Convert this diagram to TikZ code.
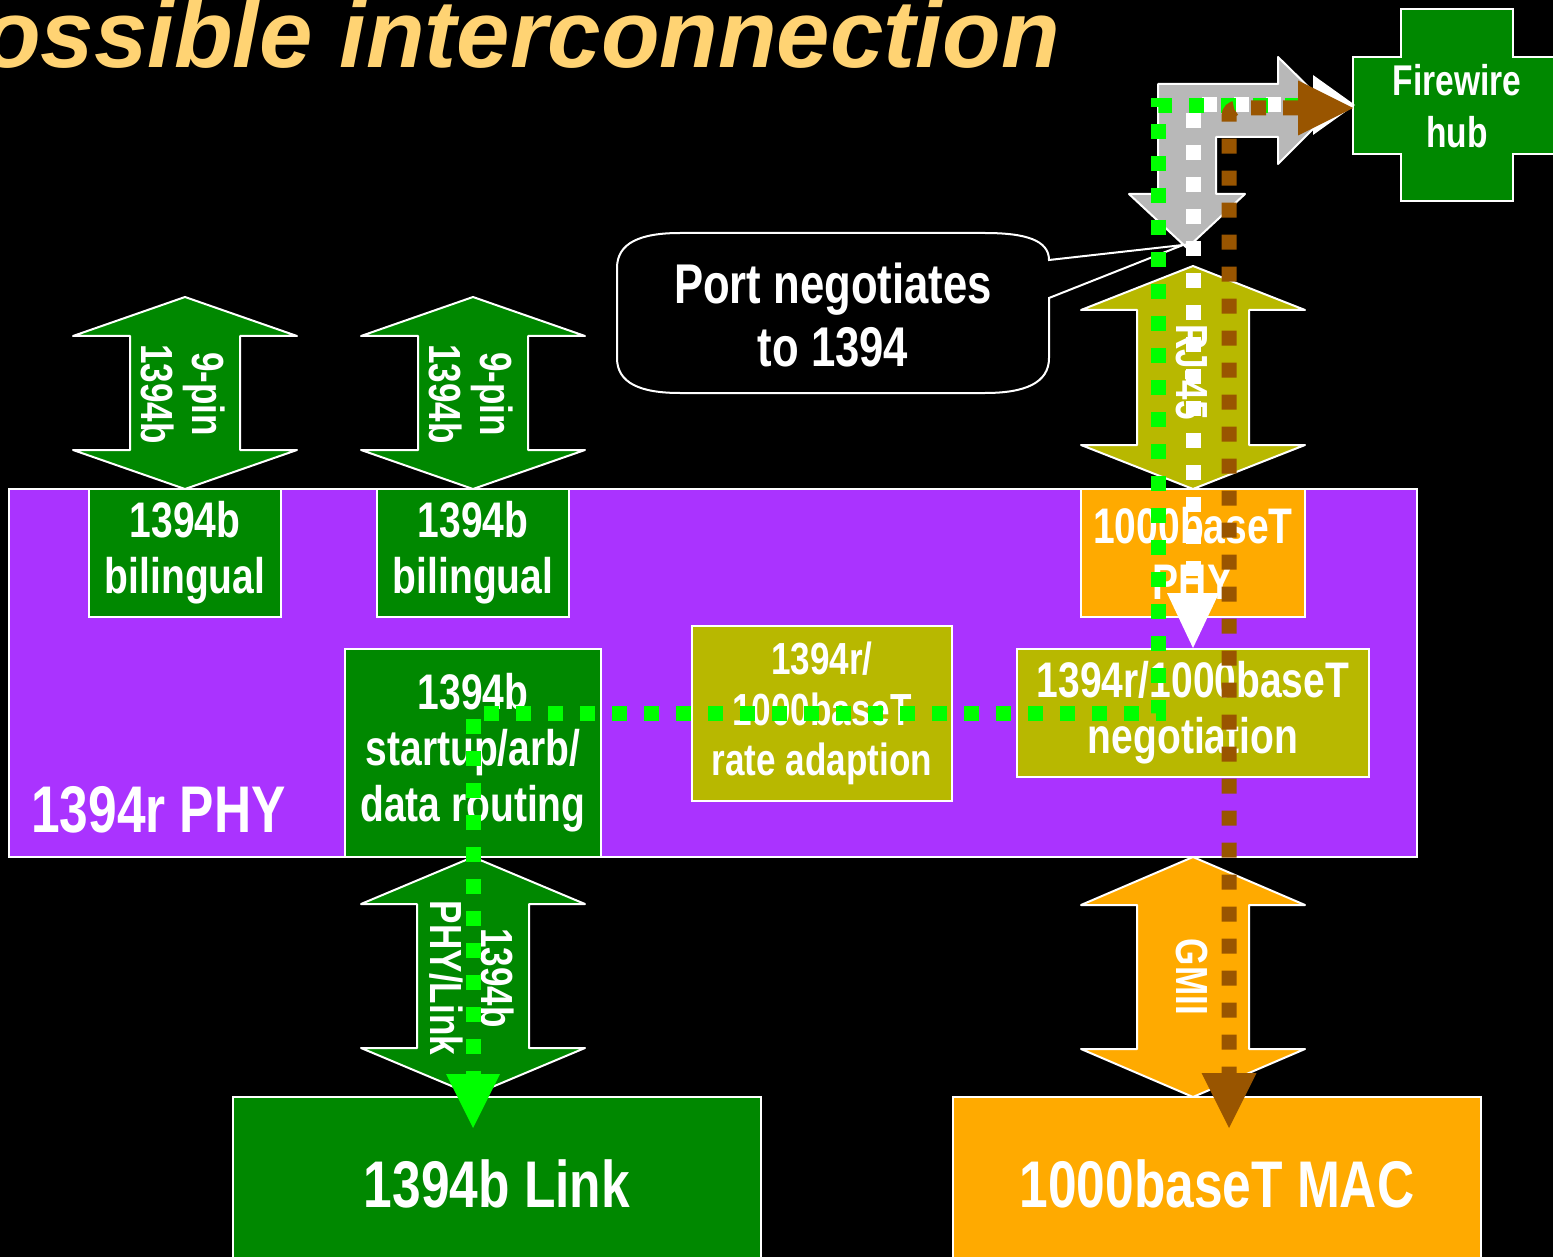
\documentclass[tikz,border=0pt]{standalone}
\usepackage{fontspec}
\usetikzlibrary{arrows.meta}
\newfontfamily\narrowsans{Liberation Sans}[FakeStretch=0.78]
\newfontfamily\titlesans{Liberation Sans}

\definecolor{phypurple}{RGB}{170,51,255}
\definecolor{fwgreen}{RGB}{0,136,0}
\definecolor{mustard}{RGB}{184,184,0}
\definecolor{gbitorange}{RGB}{255,170,0}
\definecolor{pathgrey}{RGB}{184,184,184}
\definecolor{brightgreen}{RGB}{0,255,0}
\definecolor{rust}{RGB}{153,85,0}
\definecolor{titlegold}{RGB}{255,211,115}

% double-headed block arrow: colour, centre x, top tip, bottom tip,
% head length, head half width, shaft half width
\newcommand\blockarrow[7]{%
  \filldraw[fill=#1, draw=white, line width=2, line join=round]
    ({#2},{#3}) -- ({#2+#6},{#3+#5}) -- ({#2+#7},{#3+#5})
    -- ({#2+#7},{#4-#5}) -- ({#2+#6},{#4-#5}) -- ({#2},{#4})
    -- ({#2-#6},{#4-#5}) -- ({#2-#7},{#4-#5}) -- ({#2-#7},{#3+#5})
    -- ({#2-#6},{#3+#5}) -- cycle;}

\tikzset{
  blk/.style={draw=white, line width=2, inner sep=0, align=center, text=white},
  boxfont/.style={font=\narrowsans\bfseries\fontsize{50}{56}\selectfont},
  smallfont/.style={font=\narrowsans\bfseries\fontsize{45}{50.5}\selectfont},
  arrowfont/.style={font=\narrowsans\bfseries\fontsize{45}{51}\selectfont},
  bigfont/.style={font=\narrowsans\bfseries\fontsize{66}{70}\selectfont},
  arrowlabel/.style={arrowfont, text=white, align=center, inner sep=0, rotate=-90},
  dotline/.style={line width=15, dash pattern=on 15 off 17, line cap=butt},
}

\begin{document}
\begin{tikzpicture}[x=1pt, y=-1pt]
\path[use as bounding box] (0,0) rectangle (1553,1257);
\clip (0,0) rectangle (1553,1257);
\fill[black] (0,0) rectangle (1553,1257);

% heading
\node[anchor=base west, inner sep=0, text=titlegold,
      font=\titlesans\bfseries\itshape\fontsize{96}{96}\selectfont]
      (title) at (-18,68) {ossible interconnection};

% the 1394r PHY and its blocks
\node[blk, fill=phypurple, minimum width=1408, minimum height=368] (phy) at (713,673) {};
\node[anchor=base west, inner sep=0, text=white, bigfont] (phylabel) at (31,832) {1394r PHY};

\node[blk, boxfont, fill=fwgreen, minimum width=192, minimum height=128] (bilA) at (185,553) {1394b\\bilingual};
\node[blk, boxfont, fill=fwgreen, minimum width=192, minimum height=128] (bilB) at (473,553) {1394b\\bilingual};
\node[blk, boxfont, fill=fwgreen, minimum width=256, minimum height=208] (startup) at (473,753) {1394b\\startup/arb/\\data routing};
\node[blk, smallfont, fill=mustard, minimum width=260, minimum height=175] (rate) at (822,713.5) {1394r/\\1000baseT\\rate adaption};
\node[blk, boxfont, fill=mustard, minimum width=352, minimum height=128] (nego) at (1193,713) {1394r/1000baseT\\negotiation};
\node[blk, boxfont, fill=gbitorange, minimum width=224, minimum height=128] (gphy) at (1193,553) {1000baseT\\PHY};

% link layer blocks
\node[blk, bigfont, fill=fwgreen, minimum width=528, minimum height=173] (link) at (497,1183.5) {1394b Link};
\node[blk, bigfont, fill=gbitorange, minimum width=528, minimum height=173] (mac) at (1217,1183.5) {1000baseT MAC};

% cable and interface block arrows
\blockarrow{fwgreen}{185}{297}{489}{39}{112}{55}
\node[arrowlabel] (pinA) at (183,394) {9-pin\\1394b};
\blockarrow{fwgreen}{473}{297}{489}{39}{112}{55}
\node[arrowlabel] (pinB) at (471,394) {9-pin\\1394b};
\blockarrow{mustard}{1193}{266}{489}{44}{112}{56}
\node[arrowlabel] (rj) at (1192,372) {RJ-45};
\blockarrow{fwgreen}{473}{857}{1095}{47}{112}{56}
\node[arrowlabel] (phylink) at (472,978) {1394b\\PHY/Link};
\blockarrow{gbitorange}{1193}{857}{1097}{48}{112}{56}
\node[arrowlabel] (gmii) at (1192,977) {GMII};

% Firewire hub
\filldraw[fill=fwgreen, draw=white, line width=2]
  (1401,9) -- (1513,9) -- (1513,57) -- (1561,57) -- (1561,154) -- (1513,154)
  -- (1513,201) -- (1401,201) -- (1401,154) -- (1353,154) -- (1353,57) -- (1401,57) -- cycle;
\node[text=white, align=center, inner sep=0,
      font=\narrowsans\bfseries\fontsize{43}{52}\selectfont] (hub) at (1457,106) {Firewire\\hub};

% bent grey arrow from the hub down to the port
\filldraw[fill=pathgrey, draw=white, line width=2, line join=round]
  (1158,84) -- (1278,84) -- (1278,57) -- (1332,110) -- (1278,164) -- (1278,137)
  -- (1216,137) -- (1216,194) -- (1245,194) -- (1187,248) -- (1129,194)
  -- (1158,194) -- cycle;

% callout
\filldraw[fill=black, draw=white, line width=2]
  (1049,298) -- (1183,245) -- (1049,260)
  .. controls (1049,240) and (1025,233) .. (985,233)
  -- (680,233)
  .. controls (640,233) and (617,243) .. (617,268)
  -- (617,358)
  .. controls (617,383) and (640,393) .. (680,393)
  -- (985,393)
  .. controls (1025,393) and (1049,383) .. (1049,358)
  -- cycle;
\node[text=white, align=center, inner sep=0,
      font=\narrowsans\bfseries\fontsize{56}{63}\selectfont] (note) at (833,315) {Port negotiates\\to 1394};

% data paths
\coordinate (hubW) at (1355,105);
\coordinate (hubB) at (1353,108);
\coordinate (negoIn) at (1193,648);
\draw[dotline, white, {Triangle[length=42pt, width=60pt, line width=0pt]}-{Triangle[length=55pt, width=52pt, line width=0pt]}]
  (hubW) -- (1193,105) -- (negoIn);
\draw[dotline, brightgreen, -{Triangle[length=54pt, width=54pt, line width=0pt]}]
  (1300,106) -- (1158,106) -- (1158,713) -- (473,713) -- (473,1128);
\draw[dotline, rust, rounded corners=8, {Triangle[length=55pt, width=55pt, line width=0pt]}-{Triangle[length=55pt, width=55pt, line width=0pt]}]
  (hubB) -- (1229,108) -- (1229,1128);
\end{tikzpicture}
\end{document}
